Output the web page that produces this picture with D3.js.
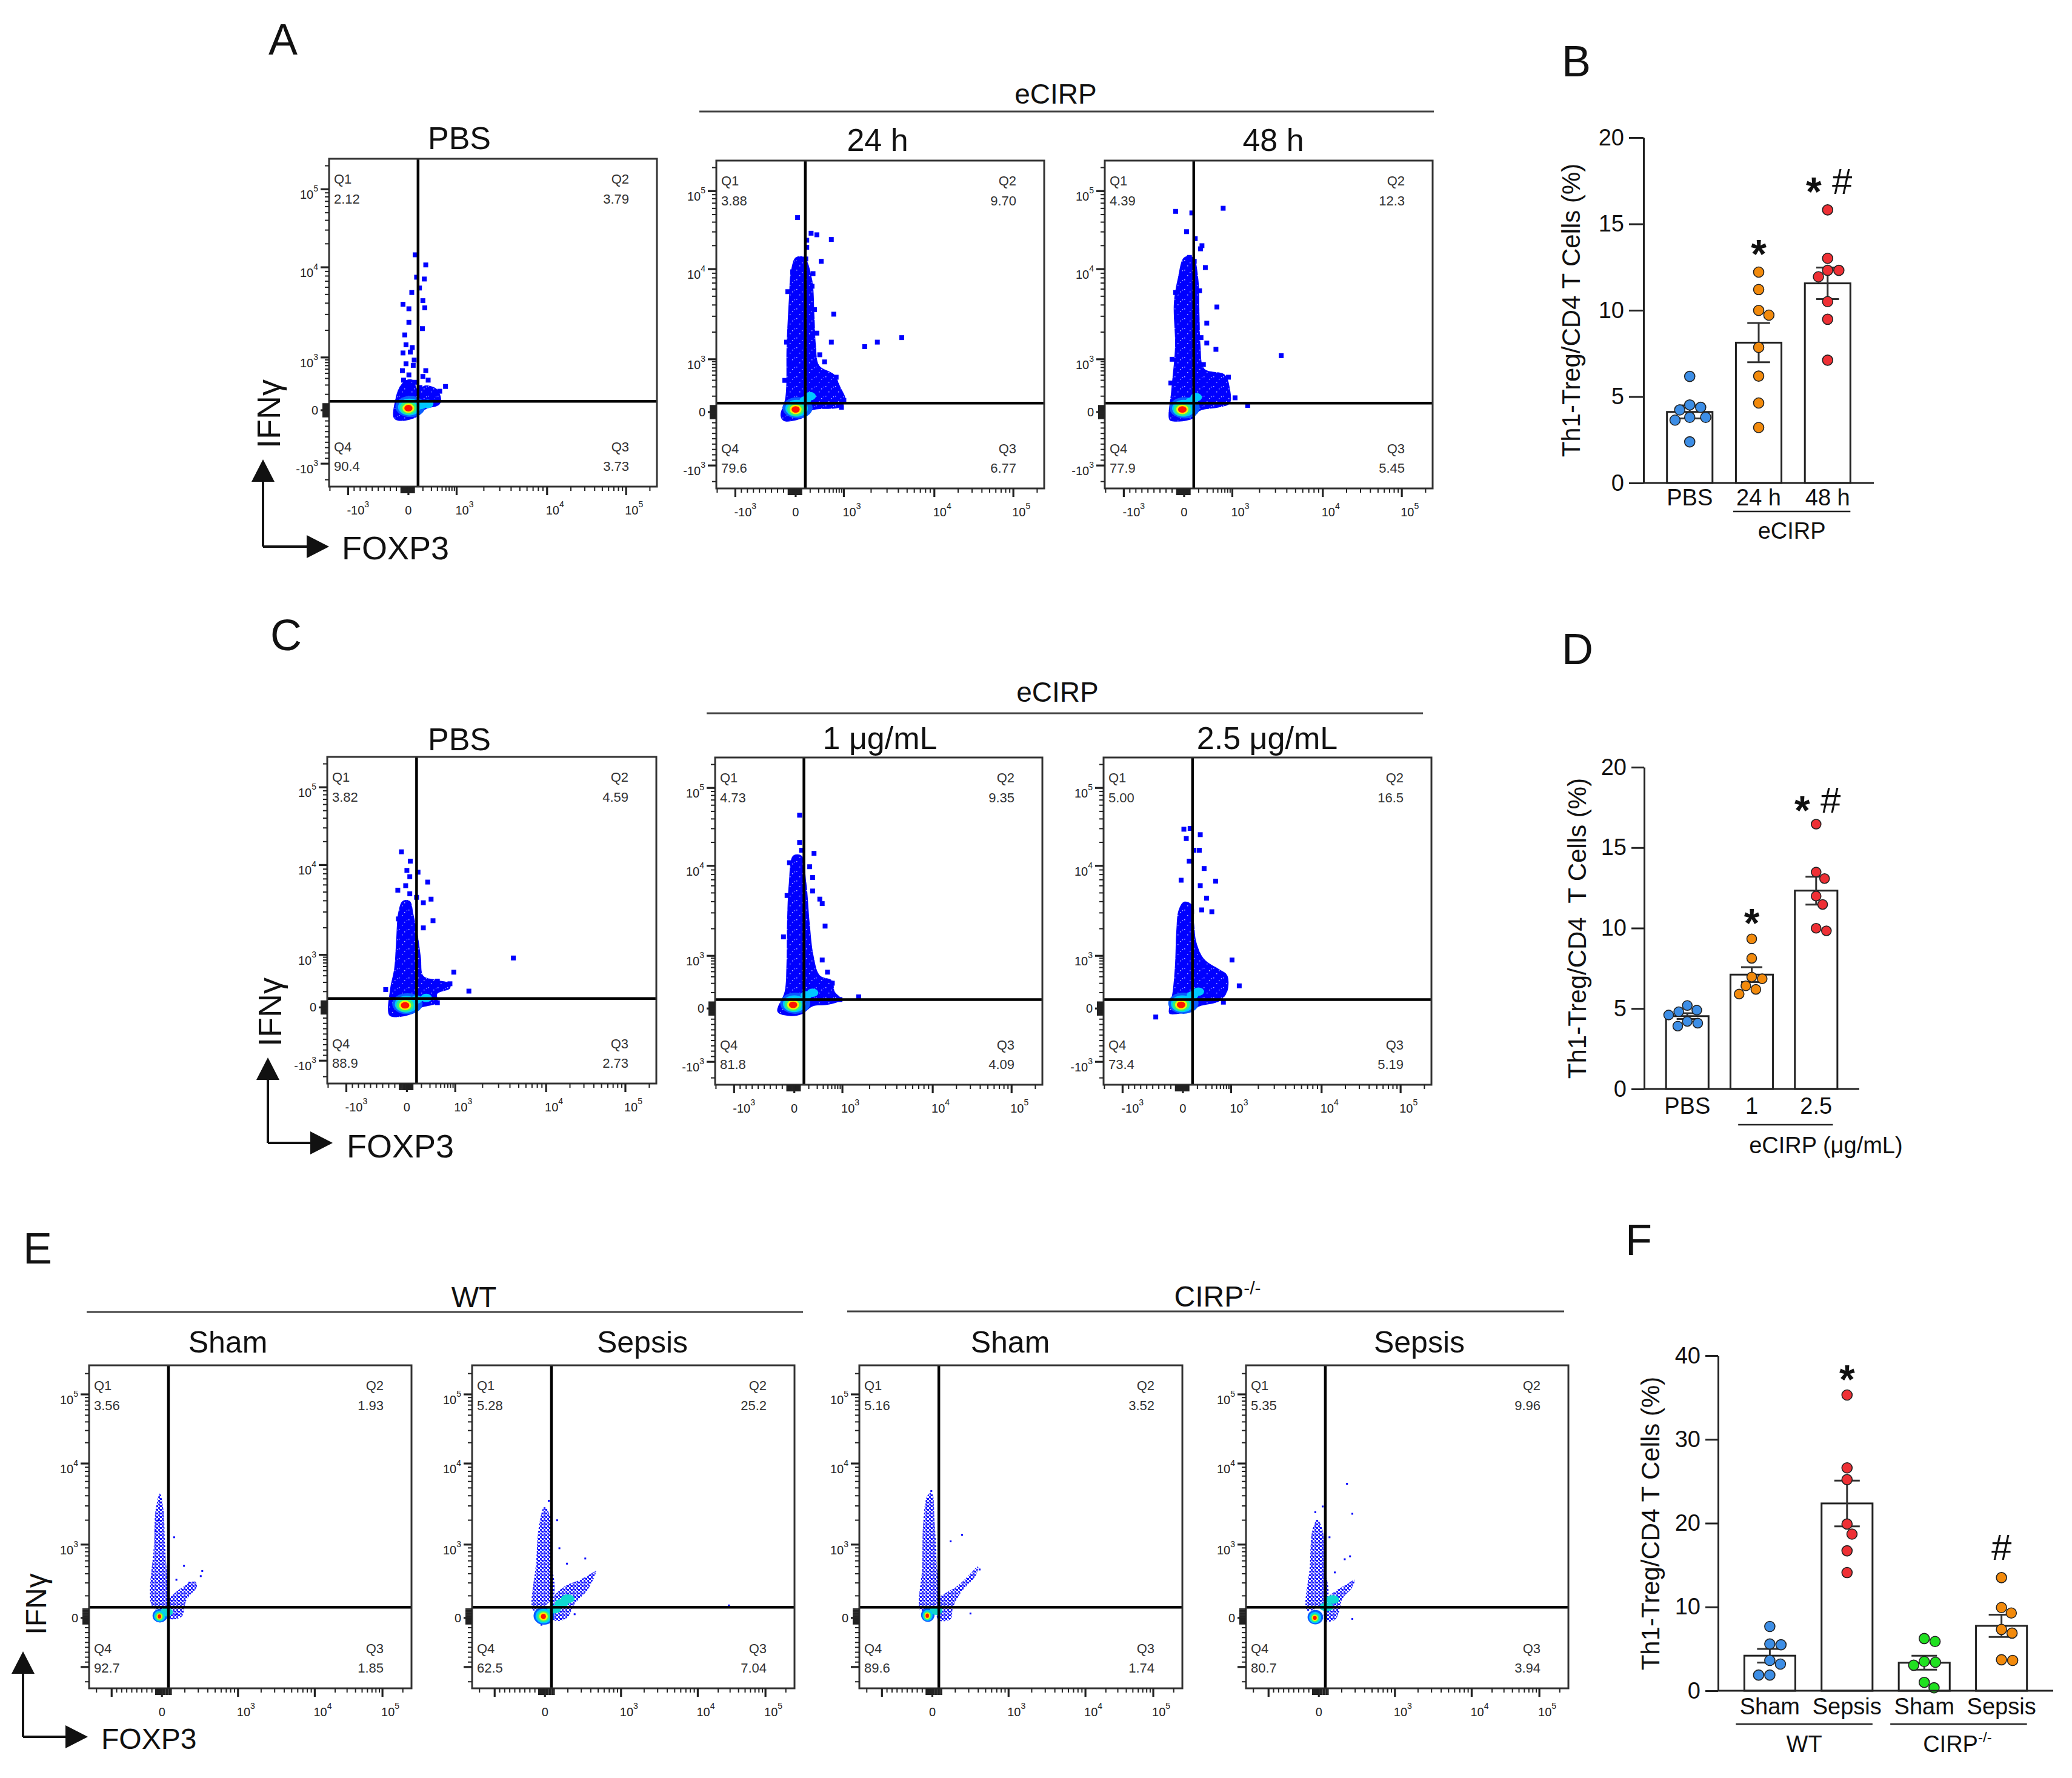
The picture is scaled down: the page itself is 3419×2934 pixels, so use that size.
<!DOCTYPE html>
<html><head><meta charset="utf-8"><title>Th1-Treg figure</title>
<script src="https://cdn.jsdelivr.net/npm/d3@7/dist/d3.min.js"></script>
<style>html,body{margin:0;padding:0;background:#fff}svg text{font-family:"Liberation Sans",Arial,Helvetica,sans-serif}</style>
</head><body>
<svg id="fig" width="3419" height="2934" viewBox="0 0 3419 2934"></svg>
<script>
// ======================= DATA =======================
// Flow events in logicle display units: 0 = 0, 1 = 10^3, 2 = 10^4, 3 = 10^5, -1 = -10^3.  [FOXP3, IFNγ]
const eventsA_PBS = [[0.14,2.16],[0.36,2.03],[0.17,1.89],[0.33,1.87],[0.23,1.77],[0.07,1.72],[0.30,1.63],[-0.09,1.59],[0.01,1.54],[0.34,1.55],[0.01,1.39],[0.29,1.32],[-0.04,1.14],[0.08,1.11],[-0.09,1.05],[0.04,1.06],[-0.04,0.88],[0.01,0.67],[0.36,0.75],[0.30,0.64],[-0.08,0.57],[0.13,0.53],[0.41,0.57],[0.77,0.45],[0.65,0.36],[0.53,0.33],[-0.11,0.40],[0.01,0.47],[0.24,0.43],[0.59,0.16],[0.48,0.19],[-0.10,0.75],[0.10,0.85],[-0.06,1.25],[0.12,0.95]];
const bodyA_PBS = [[-0.24,-0.15],[-0.22,0.19],[-0.15,0.43],[-0.04,0.57],[0.10,0.57],[0.19,0.40],[0.36,0.47],[0.59,0.40],[0.68,0.19],[0.62,0.09],[0.36,0.02],[0.19,-0.12],[-0.11,-0.20]];
const coreA_PBS = [0.0,0.04];
const tailA_PBS = [[0.25,0.10],[0.40,0.12]];
const quadA_PBS = ["2.12","3.79","3.73","90.4"];

const eventsA_24h = [[0.04,2.66],[0.32,2.46],[0.44,2.44],[0.74,2.38],[0.23,2.37],[0.23,2.28],[0.21,2.13],[0.53,2.10],[0.07,2.11],[-0.05,1.97],[0.79,1.50],[0.74,1.19],[1.23,1.14],[1.37,1.19],[1.64,1.24],[0.34,1.81],[0.28,1.66],[0.39,1.55],[0.44,1.29],[0.84,0.66],[0.95,0.09],[1.0,0.22],[-0.15,1.19],[-0.07,0.93],[-0.13,1.75],[0.36,1.95],[-0.18,0.60],[0.50,1.05],[0.60,0.95],[0.45,0.80]];
const bodyA_24h = [[-0.25,-0.075],[-0.17,0.28],[-0.15,1.15],[-0.11,1.69],[-0.08,1.97],[0.0,2.15],[0.18,2.15],[0.34,1.89],[0.39,1.47],[0.42,1.15],[0.49,0.88],[0.80,0.71],[0.92,0.49],[1.02,0.22],[0.92,0.09],[0.34,0.03],[0.18,-0.10],[-0.19,-0.17]];
const coreA_24h = [0.0,0.05];
const tailA_24h = [[0.20,0.22],[0.30,0.30]];
const quadA_24h = ["3.88","9.70","6.77","79.6"];

const eventsA_48h = [[-0.14,2.74],[0.16,2.72],[0.81,2.78],[0.05,2.48],[0.23,2.39],[0.37,2.30],[0.34,2.26],[0.11,2.15],[0.21,2.10],[0.44,2.02],[-0.04,1.94],[0.32,1.76],[-0.14,1.74],[0.68,1.58],[0.47,1.40],[0.35,1.24],[0.47,1.18],[0.66,1.11],[0.92,0.66],[1.03,0.27],[1.17,0.125],[1.54,1.04],[-0.13,1.47],[-0.20,1.0],[0.40,0.90],[-0.22,0.55]];
const bodyA_48h = [[-0.25,-0.13],[-0.21,0.44],[-0.15,1.15],[-0.17,1.62],[-0.10,1.91],[0.0,2.15],[0.19,2.15],[0.29,1.91],[0.32,1.47],[0.34,1.15],[0.42,0.82],[0.84,0.71],[0.95,0.44],[0.95,0.17],[0.74,0.09],[0.32,0.02],[0.16,-0.13],[-0.21,-0.17]];
const coreA_48h = [-0.03,0.05];
const tailA_48h = [[0.15,0.20],[0.25,0.28]];
const quadA_48h = ["4.39","12.3","5.45","77.9"];

const eventsC_PBS = [[-0.09,2.17],[0.07,2.05],[0.0,1.94],[0.23,1.92],[0.43,1.81],[0.06,1.87],[-0.15,1.72],[-0.02,1.77],[0.20,1.64],[0.34,1.58],[0.50,1.62],[0.06,1.68],[-0.14,1.40],[0.54,1.38],[0.34,1.30],[1.64,0.94],[0.97,0.67],[1.15,0.31],[-0.35,0.34],[0.89,0.45],[0.63,0.50],[0.63,0.09]];
const bodyC_PBS = [[-0.29,-0.15],[-0.28,0.33],[-0.21,0.73],[-0.18,1.12],[-0.14,1.48],[-0.07,1.60],[0.06,1.60],[0.14,1.44],[0.23,1.20],[0.29,0.94],[0.34,0.60],[0.57,0.53],[0.74,0.50],[0.89,0.46],[0.89,0.36],[0.63,0.26],[0.63,0.09],[0.29,-0.01],[0.14,-0.11],[-0.14,-0.18]];
const coreC_PBS = [-0.03,0.04];
const tailC_PBS = [[0.20,0.15],[0.40,0.18]];
const quadC_PBS = ["3.82","4.59","2.73","88.9"];

const eventsC_1 = [[0.11,2.65],[0.11,2.30],[0.15,2.20],[0.41,2.16],[-0.08,2.04],[0.32,1.99],[0.38,1.87],[-0.12,1.67],[0.38,1.72],[0.53,1.63],[0.58,1.58],[0.64,1.33],[0.58,0.92],[0.69,0.69],[0.79,0.48],[0.95,0.17],[1.18,0.22],[-0.18,1.21]];
const bodyC_1 = [[-0.28,-0.06],[-0.16,0.32],[-0.13,0.84],[-0.12,1.36],[-0.09,1.81],[-0.02,2.13],[0.15,2.13],[0.25,1.81],[0.32,1.36],[0.40,1.0],[0.53,0.63],[0.79,0.53],[0.84,0.32],[0.98,0.17],[0.69,0.07],[0.38,0.04],[0.15,-0.11],[-0.08,-0.14]];
const coreC_1 = [-0.02,0.07];
const tailC_1 = [[0.25,0.25],[0.38,0.30]];
const quadC_1 = ["4.73","9.35","4.09","81.8"];

const eventsC_25 = [[0.02,2.47],[0.15,2.48],[0.07,2.35],[0.36,2.40],[0.23,2.20],[0.34,2.20],[0.13,2.06],[0.44,1.97],[-0.03,1.84],[0.68,1.83],[0.36,1.78],[0.49,1.64],[0.39,1.51],[0.60,1.49],[0.18,1.49],[1.01,0.92],[1.09,0.43],[-0.45,-0.16],[0.84,0.12]];
const bodyC_25 = [[-0.23,-0.09],[-0.17,0.32],[-0.13,0.84],[-0.11,1.27],[-0.07,1.51],[0.02,1.60],[0.18,1.57],[0.23,1.36],[0.28,1.15],[0.44,0.94],[0.76,0.74],[0.92,0.63],[0.92,0.32],[0.76,0.14],[0.34,0.04],[0.18,-0.04],[-0.19,-0.11]];
const coreC_25 = [-0.03,0.07];
const tailC_25 = [[0.20,0.25],[0.32,0.32]];
const quadC_25 = ["5.00","16.5","5.19","73.4"];

const columnE_WTSham = [[-0.18,0.14],[-0.16,1.0],[-0.125,1.43],[-0.04,1.63],[0.02,1.43],[0.04,1.0],[0.07,0.52],[0.09,0.14]];
const cloudE_WTSham = [[0.09,0.24],[0.22,0.38],[0.43,0.50],[0.46,0.43],[0.32,0.24],[0.26,0.02],[0.09,-0.01]];
const eventsE_WTSham = [[0.16,1.09],[0.29,0.71],[0.53,0.64],[0.51,0.57],[-0.125,1.17],[-0.02,1.52],[-0.07,1.30],[0.19,0.52],[0.36,0.48],[0.19,0.05]];
const coreE_WTSham = [-0.05,0.02,1.0];
const tailE_WTSham = [[0.06,0.08]];
const quadE_WTSham = ["3.56","1.93","1.85","92.7"];

const columnE_WTSep = [[-0.23,0.10],[-0.175,0.76],[-0.12,1.22],[-0.01,1.47],[0.07,1.34],[0.09,0.76],[0.11,0.29]];
const cloudE_WTSep = [[0.09,0.24],[0.26,0.43],[0.46,0.52],[0.60,0.60],[0.67,0.64],[0.56,0.38],[0.39,0.19],[0.29,0.0],[0.12,-0.05]];
const eventsE_WTSep = [[0.05,1.54],[0.16,1.30],[0.53,0.81],[0.29,0.74],[0.19,0.95],[2.46,0.17],[-0.07,-0.14],[0.39,0.05]];
const coreE_WTSep = [-0.03,0.02,1.35];
const tailE_WTSep = [[0.12,0.12],[0.22,0.20],[0.30,0.26]];
const quadE_WTSep = ["5.28","25.2","7.04","62.5"];

const columnE_KOSham = [[-0.23,0.10],[-0.20,0.70],[-0.18,1.28],[-0.10,1.60],[-0.01,1.64],[0.03,1.28],[0.06,0.70],[0.08,0.22]];
const cloudE_KOSham = [[0.08,0.26],[0.21,0.36],[0.31,0.42],[0.44,0.54],[0.60,0.70],[0.57,0.58],[0.37,0.34],[0.27,0.14],[0.24,-0.02],[0.08,-0.05]];
const eventsE_KOSham = [[0.39,1.12],[0.24,1.04],[0.62,0.66],[0.50,0.06],[-0.02,1.66]];
const coreE_KOSham = [-0.10,0.03,1.0];
const tailE_KOSham = [[0.05,0.10]];
const quadE_KOSham = ["5.16","3.52","1.74","89.6"];

const columnE_KOSep = [[-0.23,0.10],[-0.18,0.70],[-0.13,1.17],[-0.03,1.31],[0.05,1.17],[0.08,0.70],[0.11,0.26]];
const cloudE_KOSep = [[0.11,0.26],[0.24,0.38],[0.37,0.46],[0.47,0.52],[0.44,0.42],[0.31,0.26],[0.27,0.10],[0.21,-0.04],[0.08,-0.06]];
const eventsE_KOSep = [[0.37,1.75],[0.44,1.38],[-0.07,1.40],[0.14,1.09],[0.41,0.84],[0.34,0.80],[0.21,0.62],[0.44,-0.02],[0.05,1.47]];
const coreE_KOSep = [-0.08,0.0,1.1];
const tailE_KOSep = [[0.10,0.15],[0.18,0.25]];
const quadE_KOSep = ["5.35","9.96","3.94","80.7"];

// axis decades and their tick labels ([base, exponent])
const decades = [-1, 0, 1, 2, 3];
const tickLabelsAC = [["-10","3"],["0",""],["10","3"],["10","4"],["10","5"]];
const tickLabelsE = [null,["0",""],["10","3"],["10","4"],["10","5"]];
const gateAC = [0.2, 0.17];
const gateE = [0.085, 0.145];

// Bar chart data (% Th1-Treg / CD4 T cells), one value per animal/sample
const catsB = ["PBS","24 h","48 h"];
const valsB_PBS = [6.17,4.38,4.23,4.52,3.64,3.80,3.80,2.38];
const valsB_24h = [12.21,11.2,9.99,9.72,7.85,6.19,4.63,3.21];
const valsB_48h = [15.81,13.01,12.31,12.31,11.94,10.5,9.48,7.11];
const yTicksB = [0,5,10,15,20];
const sigB = [["24 h","*",13.9],["48 h","*#",17.5]];

const catsD = ["PBS","1","2.5"];
const valsD_PBS = [5.19,4.6,4.8,4.9,3.91,4.09,4.2];
const valsD_1 = [9.33,8.12,6.96,6.85,6.41,5.9,6.19];
const valsD_25 = [16.46,13.48,13.08,11.99,11.47,9.83,9.99];
const yTicksD = [0,5,10,15,20];
const sigD = [["1","*",11.0],["2.5","*#",18.0]];

const catsF = ["WT Sham","WT Sepsis","KO Sham","KO Sepsis"];
const labelsF = ["Sham","Sepsis","Sham","Sepsis"];
const valsF_WTSham = [7.67,5.58,5.49,3.18,3.62,1.87,1.87];
const valsF_WTSep = [35.3,26.6,25.2,19.9,18.7,16.7,14.1];
const valsF_KOSham = [5.88,6.23,3.4,3.49,3.05,1.0,0.35];
const valsF_KOSep = [13.5,9.93,9.28,7.32,6.88,3.62,3.7];
const yTicksF = [0,10,20,30,40];
const sigF = [["WT Sepsis","*",38.5],["KO Sepsis","#",17.2]];

// ======================= DRAWING =======================
const FONT = '"Liberation Sans", Arial, Helvetica, sans-serif';
const svg = d3.select('#fig');
svg.append('rect').attr('width',3419).attr('height',2934).attr('fill','#fff');
const defs = svg.append('defs');
// speckle texture for the small-dot (panel E) plots
const pat = defs.append('pattern').attr('id','speckle').attr('patternUnits','userSpaceOnUse').attr('width',6).attr('height',6);
[[0,0,3,'#0a0aff'],[3,3,3,'#2a2aff'],[4,0,2,'#4a4aff']].forEach(r =>
  pat.append('rect').attr('x',r[0]).attr('y',r[1]).attr('width',r[2]).attr('height',r[2]).attr('fill',r[3]));
// dense-square texture for the large-dot plots
const pat2 = defs.append('pattern').attr('id','squares').attr('patternUnits','userSpaceOnUse').attr('width',16).attr('height',16);
pat2.append('rect').attr('width',16).attr('height',16).attr('fill','#0000ff');
[[7,6],[15,14],[2,13],[11,1]].forEach(r => pat2.append('rect').attr('x',r[0]).attr('y',r[1]).attr('width',1.5).attr('height',1.5).attr('fill','#fff').attr('opacity',0.7));

const densityColors = ['#0a5cff','#00c8ff','#30f080','#f4f000','#ff1400'];
const coreLevelsAC = [[0.28,0.20,0.04,0.03],[0.21,0.16,0.02,0.02],[0.155,0.125,0,0.005],[0.11,0.09,0,0],[0.075,0.062,0,0]];
const coreLevelsE = [[0.125,0.105,0.01,0.01],[0.1,0.085,0.005,0.005],[0.078,0.066,0,0],[0.055,0.048,0,0],[0.034,0.03,0,0]];
const axesAC = {fx:[0.058,0.242,0.389,0.665,0.906], fy:[0.070,0.233,0.394,0.669,0.907]};
const axesE = {fx:[0.07,0.226,0.462,0.70,0.91], fy:[0.066,0.218,0.445,0.696,0.91]};
let clipN = 0;

function addPow(t, lab, fs) {
  t.append('tspan').text(lab[0]);
  if (lab[1]) t.append('tspan').attr('font-size', Math.round(fs*0.68)).attr('dy', -Math.round(fs*0.6)).text(lab[1]);
}

function flowPlot(p) {
  const b = p.box, small = p.small;
  const ax = small ? axesE : axesAC;
  const x = d3.scaleLinear().domain(decades).range(ax.fx.map(f => b.x + f*b.w));
  const y = d3.scaleLinear().domain(decades).range(ax.fy.map(f => b.y + b.h - f*b.h));
  const id = 'clip' + (clipN++);
  defs.append('clipPath').attr('id', id).append('rect').attr('x',b.x).attr('y',b.y).attr('width',b.w).attr('height',b.h);
  const g = svg.append('g');
  const inner = g.append('g').attr('clip-path', `url(#${id})`);
  const shape = d3.line().x(d => x(d[0])).y(d => y(d[1])).curve(d3.curveCatmullRomClosed.alpha(0.5));
  p.bodies.forEach(poly => inner.append('path').attr('d', shape(poly))
    .attr('fill', small ? 'url(#speckle)' : 'url(#squares)'));
  const s = small ? 3 : 8;
  inner.selectAll(null).data(p.events).join('rect')
    .attr('x', d => x(d[0]) - s/2).attr('y', d => y(d[1]) - s/2)
    .attr('width', s).attr('height', s).attr('fill', '#0000ff');
  const lv = small ? coreLevelsE : coreLevelsAC;
  const ell = (cx, cy, rx, ry, col) => inner.append('ellipse')
    .attr('cx', x(cx)).attr('cy', y(cy))
    .attr('rx', (x(cx+rx) - x(cx-rx))/2).attr('ry', (y(cy-ry) - y(cy+ry))/2).attr('fill', col);
  const c = p.core, k = c[2] || 1;
  ell(c[0]+lv[0][2], c[1]+lv[0][3], lv[0][0]*k, lv[0][1]*k, densityColors[0]);
  const tr = small ? [0.09,0.06] : [0.12,0.08];
  p.tail.forEach(t => ell(t[0], t[1], tr[0], tr[1], small ? '#10d8d0' : densityColors[1]));
  for (let i = 1; i < lv.length; i++) ell(c[0]+lv[i][2], c[1]+lv[i][3], lv[i][0]*k, lv[i][1]*k, densityColors[i]);
  // gates
  const gate = small ? gateE : gateAC;
  g.append('line').attr('x1', x(gate[0])).attr('x2', x(gate[0])).attr('y1', b.y).attr('y2', b.y+b.h).attr('stroke','#000').attr('stroke-width',4.5);
  g.append('line').attr('x1', b.x).attr('x2', b.x+b.w).attr('y1', y(gate[1])).attr('y2', y(gate[1])).attr('stroke','#000').attr('stroke-width',4.5);
  g.append('rect').attr('x',b.x).attr('y',b.y).attr('width',b.w).attr('height',b.h).attr('fill','none').attr('stroke','#333').attr('stroke-width',3);
  // ticks
  const lf = d3.range(2,10).map(m => Math.log10(m));
  const minors = [].concat(lf, lf.map(v=>1+v), lf.map(v=>2+v), lf.map(v=>3+v), d3.range(1,10).map(k=>-k/10), lf.map(v=>-1-v));
  const cluster = d3.range(-12, 13, 2).map(k => k/100);
  const ux = [x.invert(b.x), x.invert(b.x+b.w)], uy = [y.invert(b.y+b.h), y.invert(b.y)];
  const ticks = [];
  minors.forEach(u => ticks.push([u, 7, 2]));
  cluster.forEach(u => ticks.push([u, 11, 2.5]));
  decades.forEach(u => ticks.push([u, 14, 3.2]));
  const tg = g.append('g').attr('stroke', '#222');
  ticks.forEach(([u, len, w]) => {
    if (u > ux[0] && u < ux[1]) tg.append('line').attr('x1', x(u)).attr('x2', x(u)).attr('y1', b.y+b.h).attr('y2', b.y+b.h+len).attr('stroke-width', w);
    if (u > uy[0] && u < uy[1]) tg.append('line').attr('y1', y(u)).attr('y2', y(u)).attr('x1', b.x).attr('x2', b.x-len).attr('stroke-width', w);
  });
  const labs = small ? tickLabelsE : tickLabelsAC;
  const fs = 20;
  decades.forEach((u, i) => {
    const lab = labs[i]; if (!lab) return;
    const tx = g.append('text').attr('font-size', fs).attr('fill','#222')
      .attr('x', lab[1] ? x(u) - 2 : x(u)).attr('y', b.y + b.h + 46)
      .attr('text-anchor', lab[1] ? 'start' : 'middle');
    addPow(tx, lab, fs);
    const ty = g.append('text').attr('font-size', fs).attr('fill','#222')
      .attr('x', b.x - 18).attr('y', y(u) + (lab[1] ? 16 : 7)).attr('text-anchor','end');
    addPow(ty, lab, fs);
  });
  // quadrant labels
  const q = p.quad, qf = 22, qc = '#333';
  const qt = (tx, ty, str, anchor) => g.append('text').attr('x',tx).attr('y',ty).attr('font-size',qf).attr('fill',qc).attr('text-anchor',anchor).text(str);
  qt(b.x+8, b.y+41, 'Q1', 'start'); qt(b.x+8, b.y+74, q[0], 'start');
  qt(b.x+b.w-46, b.y+41, 'Q2', 'end'); qt(b.x+b.w-46, b.y+74, q[1], 'end');
  qt(b.x+b.w-46, b.y+b.h-58, 'Q3', 'end'); qt(b.x+b.w-46, b.y+b.h-26, q[2], 'end');
  qt(b.x+8, b.y+b.h-58, 'Q4', 'start'); qt(b.x+8, b.y+b.h-26, q[3], 'start');
  // title
  svg.append('text').attr('x', p.title[1]).attr('y', p.title[2]).attr('font-size', p.title[3]).attr('fill','#111').attr('text-anchor','middle').text(p.title[0]);
}

const flowPlots = [
  {box:{x:543,y:262,w:541,h:541}, events:eventsA_PBS, bodies:[bodyA_PBS], core:coreA_PBS, tail:tailA_PBS, quad:quadA_PBS, title:['PBS',758,246,52]},
  {box:{x:1182,y:265,w:541,h:541}, events:eventsA_24h, bodies:[bodyA_24h], core:coreA_24h, tail:tailA_24h, quad:quadA_24h, title:['24 h',1448,249,52]},
  {box:{x:1823,y:265,w:541,h:541}, events:eventsA_48h, bodies:[bodyA_48h], core:coreA_48h, tail:tailA_48h, quad:quadA_48h, title:['48 h',2101,249,52]},
  {box:{x:540,y:1249,w:543,h:539}, events:eventsC_PBS, bodies:[bodyC_PBS], core:coreC_PBS, tail:tailC_PBS, quad:quadC_PBS, title:['PBS',758,1238,52]},
  {box:{x:1180,y:1250,w:540,h:540}, events:eventsC_1, bodies:[bodyC_1], core:coreC_1, tail:tailC_1, quad:quadC_1, title:['1 μg/mL',1452,1236,52]},
  {box:{x:1821,y:1250,w:541,h:540}, events:eventsC_25, bodies:[bodyC_25], core:coreC_25, tail:tailC_25, quad:quadC_25, title:['2.5 μg/mL',2091,1236,52]},
  {box:{x:147,y:2253,w:532,h:533}, small:true, events:eventsE_WTSham, bodies:[columnE_WTSham, cloudE_WTSham], core:coreE_WTSham, tail:tailE_WTSham, quad:quadE_WTSham, title:['Sham',376,2232,50]},
  {box:{x:779,y:2253,w:532,h:533}, small:true, events:eventsE_WTSep, bodies:[columnE_WTSep, cloudE_WTSep], core:coreE_WTSep, tail:tailE_WTSep, quad:quadE_WTSep, title:['Sepsis',1060,2232,50]},
  {box:{x:1418,y:2253,w:533,h:533}, small:true, events:eventsE_KOSham, bodies:[columnE_KOSham, cloudE_KOSham], core:coreE_KOSham, tail:tailE_KOSham, quad:quadE_KOSham, title:['Sham',1667,2232,50]},
  {box:{x:2056,y:2253,w:532,h:533}, small:true, events:eventsE_KOSep, bodies:[columnE_KOSep, cloudE_KOSep], core:coreE_KOSep, tail:tailE_KOSep, quad:quadE_KOSep, title:['Sepsis',2342,2232,50]}
];
flowPlots.forEach(flowPlot);

// headers over groups of flow plots
function header(str, cx, base, fs, x1, x2, ly, sup) {
  const t = svg.append('text').attr('x', cx).attr('y', base).attr('font-size', fs).attr('fill','#111').attr('text-anchor','middle');
  t.append('tspan').text(str);
  if (sup) t.append('tspan').attr('font-size', Math.round(fs*0.62)).attr('dy', -Math.round(fs*0.42)).text(sup);
  svg.append('line').attr('x1', x1).attr('x2', x2).attr('y1', ly).attr('y2', ly).attr('stroke','#444').attr('stroke-width',3);
}
header('eCIRP', 1742, 171, 46, 1154, 2366, 184);
header('eCIRP', 1745, 1158, 46, 1166, 2348, 1177);
header('WT', 782, 2157, 48, 143, 1325, 2165);
header('CIRP', 2009, 2156, 48, 1398, 2581, 2164, '-/-');

// axis-direction arrows with IFNγ / FOXP3
function arrows(ax, tipY, cornerY, tipX, fLabX, fLabY, iLabX, iLabY, fs) {
  const g = svg.append('g');
  g.append('path').attr('d', `M${ax},${cornerY}V${tipY+30}M${ax},${cornerY}H${tipX-32}`).attr('stroke','#111').attr('stroke-width',4).attr('fill','none');
  g.append('path').attr('d', `M${ax},${tipY}L${ax-19},${tipY+37}L${ax+19},${tipY+37}Z`).attr('fill','#111');
  g.append('path').attr('d', `M${tipX},${cornerY}L${tipX-37},${cornerY-19}L${tipX-37},${cornerY+19}Z`).attr('fill','#111');
  g.append('text').attr('x', fLabX).attr('y', fLabY).attr('font-size', fs).attr('fill','#111').text('FOXP3');
  g.append('text').attr('transform', `translate(${iLabX},${iLabY}) rotate(-90)`).attr('font-size', fs).attr('fill','#111').attr('text-anchor','middle').text('IFNγ');
}
arrows(434, 758, 902, 543, 564, 923, 462, 683, 54);
arrows(442, 1745, 1886, 549, 572, 1910, 464, 1670, 54);
arrows(38, 2725, 2866, 145, 167, 2886, 76, 2647, 48);

// panel letters
[['A',443,90],['B',2577,126],['C',446,1073],['D',2577,1096],['E',38,2085],['F',2682,2071]].forEach(l =>
  svg.append('text').attr('x', l[1]).attr('y', l[2]).attr('font-size', 72).attr('fill','#111').text(l[0]));

// ---------------- bar charts ----------------
function swarm(vals, y, r) {
  const D = 2*r + 1.5;
  const pts = vals.map((v, i) => ({v, i, y: y(v), x: 0})).sort((a, b) => b.v - a.v);
  const placed = [];
  pts.forEach(p => {
    const cands = [0];
    placed.forEach(q => { const dy = Math.abs(q.y - p.y); if (dy < D) { const dx = Math.sqrt(D*D - dy*dy); cands.push(q.x + dx, q.x - dx); } });
    cands.sort((a, b) => Math.abs(a) - Math.abs(b));
    for (const c of cands) {
      if (placed.every(q => (q.x - c)**2 + (q.y - p.y)**2 >= D*D - 0.5)) { p.x = c; break; }
    }
    placed.push(p);
  });
  return pts;
}

function barChart(c) {
  const y = d3.scaleLinear().domain([0, c.yMax]).range([c.y0, c.yTop]);
  const x = d3.scalePoint().domain(c.cats).range([c.axisX, c.xEnd]).padding(0.67);
  const step = x.step(), bw = step * 0.66;
  const g = svg.append('g');
  c.groups.forEach((vals, i) => {
    const cx = x(c.cats[i]);
    const m = d3.mean(vals), sem = d3.deviation(vals) / Math.sqrt(vals.length);
    g.append('rect').attr('x', cx - bw/2).attr('y', y(m)).attr('width', bw).attr('height', c.y0 - y(m))
      .attr('fill','#fff').attr('stroke','#222').attr('stroke-width',3);
    const eg = g.append('g').attr('stroke','#333').attr('stroke-width',3);
    eg.append('line').attr('x1',cx).attr('x2',cx).attr('y1',y(m+sem)).attr('y2',y(m-sem));
    [m+sem, m-sem].forEach(v => eg.append('line').attr('x1',cx-bw*0.25).attr('x2',cx+bw*0.25).attr('y1',y(v)).attr('y2',y(v)));
    swarm(vals, y, c.r).forEach(p => g.append('circle').attr('cx', cx + p.x).attr('cy', p.y).attr('r', c.r)
      .attr('fill', c.colors[i]).attr('stroke','#222').attr('stroke-width',1.6));
  });
  const ax = d3.axisLeft(y).tickValues(c.yTicks).tickSize(c.tickLen).tickSizeOuter(0).tickPadding(8);
  const ga = svg.append('g').attr('transform', `translate(${c.axisX},0)`).call(ax)
    .attr('font-family', FONT).attr('font-size', 38);
  ga.select('.domain').attr('stroke','#222').attr('stroke-width',3);
  ga.selectAll('.tick line').attr('stroke','#222').attr('stroke-width',3);
  ga.selectAll('.tick text').attr('fill','#111');
  svg.append('line').attr('x1', c.axisX).attr('x2', c.xEnd).attr('y1', c.y0).attr('y2', c.y0).attr('stroke','#222').attr('stroke-width',3);
  c.cats.forEach((k, i) => svg.append('text').attr('x', x(k)).attr('y', c.catBase).attr('font-size', 38).attr('fill','#111')
    .attr('text-anchor','middle').text(c.catLabels ? c.catLabels[i] : k));
  c.groupsLab.forEach(gl => {
    const x1 = x(gl.from) - gl.lf*step, x2 = x(gl.to) + gl.rf*step;
    svg.append('line').attr('x1', x1).attr('x2', x2).attr('y1', c.lineY).attr('y2', c.lineY).attr('stroke','#222').attr('stroke-width',2.5);
    const t = svg.append('text').attr('y', c.groupBase).attr('font-size', 38).attr('fill','#111');
    if (gl.anchorStart) t.attr('x', x1 + 18).attr('text-anchor','start'); else t.attr('x', (x1+x2)/2 + (gl.dx||0)).attr('text-anchor','middle');
    t.append('tspan').text(gl.text);
    if (gl.sup) t.append('tspan').attr('font-size', 24).attr('dy', -16).text(gl.sup);
  });
  c.sig.forEach(([k, str, lev]) => {
    const cx = x(k), cy = y(lev);
    const chars = str.split('');
    chars.forEach((ch, j) => {
      const off = chars.length > 1 ? (j === 0 ? -23 : 24) : 0;
      const fs = ch === '*' ? 66 : 60;
      svg.append('text').attr('x', cx + off).attr('y', cy + (ch === '*' ? 0.62*fs : 0.36*fs)).attr('font-size', fs)
        .attr('font-weight', ch === '*' ? 'bold' : 'normal').attr('fill','#111').attr('text-anchor','middle').text(ch);
    });
  });
  svg.append('text').attr('transform', `translate(${c.yLab[0]},${c.yLab[1]}) rotate(-90)`).attr('font-size', 42).attr('fill','#111')
    .attr('text-anchor','middle').text(c.yLabText);
}

const blue = '#3d8ee6', orange = '#f28a0c', red = '#ee3035', green = '#20e020';
barChart({cats:catsB, groups:[valsB_PBS, valsB_24h, valsB_48h], colors:[blue, orange, red], yMax:20, yTicks:yTicksB,
  axisX:2712, xEnd:3092, y0:797, yTop:227, tickLen:24, r:8.5, catBase:834, lineY:844, groupBase:889,
  groupsLab:[{from:'24 h', to:'48 h', lf:0.37, rf:0.33, text:'eCIRP'}], sig:sigB,
  yLab:[2607, 512], yLabText:'Th1-Treg/CD4 T Cells (%)'});
barChart({cats:catsD, groups:[valsD_PBS, valsD_1, valsD_25], colors:[blue, orange, red], yMax:20, yTicks:yTicksD,
  axisX:2713, xEnd:3068, y0:1797, yTop:1266, tickLen:21, r:8, catBase:1838, lineY:1856, groupBase:1903,
  groupsLab:[{from:'1', to:'2.5', lf:0.21, rf:0.26, text:'eCIRP (μg/mL)', anchorStart:true}], sig:sigD,
  yLab:[2617, 1532], yLabText:'Th1-Treg/CD4\u00a0 T Cells (%)'});
barChart({cats:catsF, catLabels:labelsF, groups:[valsF_WTSham, valsF_WTSep, valsF_KOSham, valsF_KOSep], colors:[blue, red, green, orange], yMax:40, yTicks:yTicksF,
  axisX:2835, xEnd:3388, y0:2790, yTop:2237, tickLen:21, r:8.5, catBase:2829, lineY:2845, groupBase:2891,
  groupsLab:[{from:'WT Sham', to:'WT Sepsis', lf:0.44, rf:0.33, text:'WT'}, {from:'KO Sham', to:'KO Sepsis', lf:0.44, rf:0.33, text:'CIRP', sup:'-/-', dx:-2}], sig:sigF,
  yLab:[2738, 2514], yLabText:'Th1-Treg/CD4 T Cells (%)'});
</script>
</body></html>
